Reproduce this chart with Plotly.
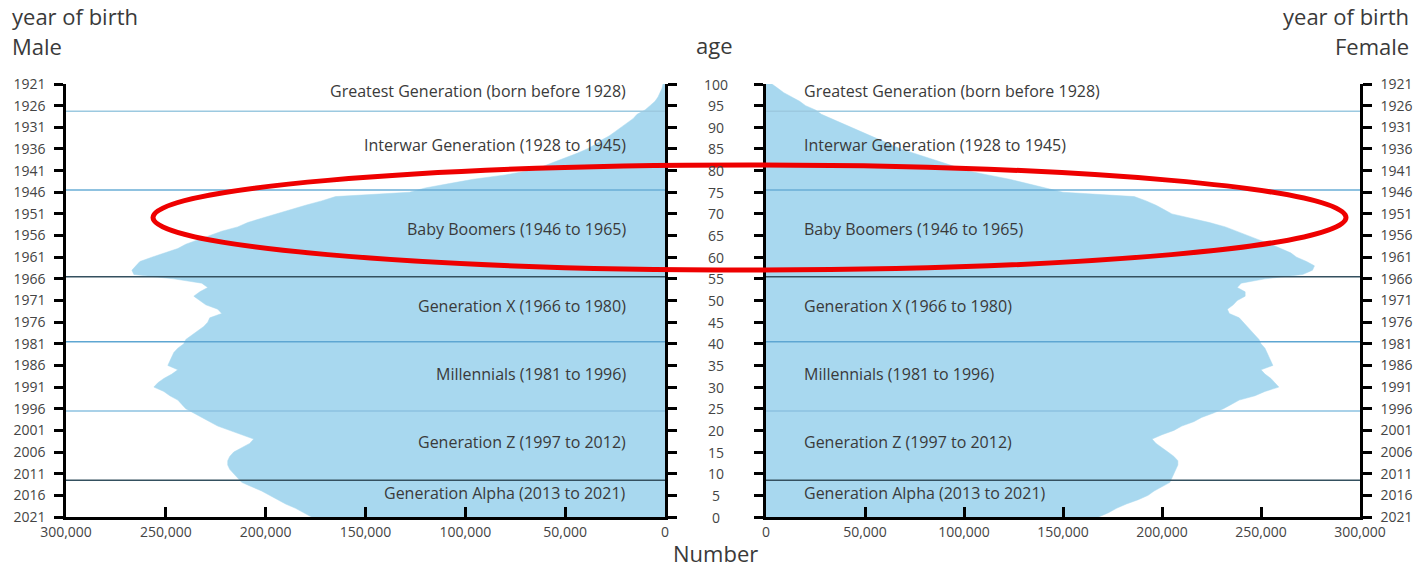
import plotly.graph_objects as go

# ---------------- data ----------------
census_year = 2021
ages = list(range(0, 101))

# Male population by single year of age (0..100)
male = [177000, 181000, 185000, 190000, 194000, 198000, 202000, 207000, 212000, 214000,
        216000, 218000, 219000, 219000, 218000, 216000, 212000, 208000, 206000, 212000,
        219000, 224000, 228000, 232000, 236000, 240000, 242000, 244000, 248000, 251000,
        256000, 254000, 251000, 247000, 244000, 249000, 248000, 247000, 246000, 244000,
        241000, 240000, 237000, 234000, 231000, 229000, 228000, 222000, 224000, 230000,
        233000, 236000, 233000, 229000, 232000, 246000, 266000, 267000, 265000, 263000,
        257000, 250000, 244000, 240000, 234000, 228000, 222000, 214000, 209000, 202000,
        195000, 188000, 180000, 172000, 165000, 128000, 120000, 108000, 96000, 80000,
        68000, 61000, 55000, 50000, 44000, 39000, 35000, 32000, 28000, 25000,
        22000, 19000, 16000, 14000, 10000, 7500, 5000, 3500, 2500, 1500,
        1000]

# Female population by single year of age (0..100)
female = [168000, 173000, 177000, 182000, 188000, 193000, 196000, 200000, 204000, 205000,
          206000, 207000, 208000, 208000, 206000, 203000, 200000, 197000, 195000, 200000,
          206000, 210000, 216000, 220000, 226000, 231000, 235000, 239000, 247000, 252000,
          259000, 257000, 255000, 252000, 250000, 256000, 255000, 254000, 253000, 252000,
          250000, 249000, 247000, 245000, 243000, 241000, 239000, 234000, 233000, 236000,
          238000, 242000, 242000, 238000, 240000, 252000, 271000, 276000, 277000, 273000,
          268000, 265000, 260000, 255000, 249000, 243000, 238000, 232000, 224000, 214000,
          205000, 201000, 197000, 192000, 186000, 150000, 141000, 133000, 123000, 112000,
          101000, 95000, 88000, 81000, 74000, 68000, 63000, 58000, 53000, 48000,
          43000, 38000, 33000, 28000, 25000, 20000, 17000, 13000, 9000, 6000,
          3000]

age_ticks = [100, 95, 90, 85, 80, 75, 70, 65, 60, 55, 50, 45, 40, 35, 30, 25, 20, 15, 10, 5, 0]
birth_year_ticks = [1921, 1926, 1931, 1936, 1941, 1946, 1951, 1956, 1961, 1966, 1971,
                    1976, 1981, 1986, 1991, 1996, 2001, 2006, 2011, 2016, 2021]
number_ticks = [0, 50000, 100000, 150000, 200000, 250000, 300000]

generations = ["Greatest Generation (born before 1928)",
               "Interwar Generation (1928 to 1945)",
               "Baby Boomers (1946 to 1965)",
               "Generation X (1966 to 1980)",
               "Millennials (1981 to 1996)",
               "Generation Z (1997 to 2012)",
               "Generation Alpha (2013 to 2021)"]
# generation boundaries expressed as age
generation_bounds = [93.7, 75.5, 55.5, 40.5, 24.5, 8.5]

# ---------------- styling / layout ----------------
W, H = 1415, 570
FONT = "Open Sans"
FILL = "#a8d8ef"
TXT = "#3a3a3a"
TICKC = "#444444"

def px_x(p):
    return p / W

def px_y(p):
    return (H - p) / H

label_ages = [98.3, 85.9, 66.5, 48.7, 33.0, 17.3, 5.5]
bound_colors = ["#9cc9e0", "#6aaed6", "#34505f", "#5ea6d2", "#8cc2e0", "#34505f"]

fig = go.Figure()
fig.add_trace(go.Scatter(x=male, y=ages, xaxis="x", yaxis="y", fill="tozerox",
                         fillcolor=FILL, mode="lines",
                         line=dict(color=FILL, width=0.5), showlegend=False,
                         hoverinfo="skip"))
fig.add_trace(go.Scatter(x=female, y=ages, xaxis="x2", yaxis="y2", fill="tozerox",
                         fillcolor=FILL, mode="lines",
                         line=dict(color=FILL, width=0.5), showlegend=False,
                         hoverinfo="skip"))

tick_pos = [census_year - y for y in birth_year_ticks]

ydom = [px_y(517), px_y(84)]
common_y = dict(range=[0, 100], domain=ydom, showgrid=False, zeroline=False,
                showline=True, linecolor="black", linewidth=2.5, automargin=False,
                ticks="outside", ticklen=9, tickwidth=2.5, tickcolor="black",
                mirror="ticks", tickmode="array", tickvals=tick_pos,
                ticktext=[str(y) for y in birth_year_ticks], ticklabelstandoff=6,
                tickfont=dict(family=FONT, size=14, color=TICKC), fixedrange=True)
common_x = dict(showgrid=False, zeroline=False, showline=True, linecolor="black",
                linewidth=2.5, ticks="inside", ticklen=10, tickwidth=2.5, automargin=False,
                tickcolor="black", tickmode="array", tickvals=number_ticks,
                ticktext=[f"{v:,}" for v in number_ticks],
                tickfont=dict(family=FONT, size=14, color=TICKC), fixedrange=True)

fig.update_layout(
    width=W, height=H,
    margin=dict(l=0, r=0, t=0, b=0, pad=0, autoexpand=False),
    paper_bgcolor="white", plot_bgcolor="white",
    xaxis=dict(common_x, domain=[px_x(66), px_x(665)], range=[300000, 0], anchor="y"),
    xaxis2=dict(common_x, domain=[px_x(766), px_x(1360)], range=[0, 300000], anchor="y2"),
    yaxis=dict(common_y, anchor="x", side="left"),
    yaxis2=dict(common_y, anchor="x2", side="right"),
)

shapes = []
for b, c in zip(generation_bounds, bound_colors):
    for xr in ["x domain", "x2 domain"]:
        shapes.append(dict(type="line", xref=xr, yref="y", x0=0, x1=1, y0=b, y1=b,
                           line=dict(color=c, width=1.5), layer="above"))
# red highlight ellipse around the baby boomers
shapes.append(dict(type="circle", xref="paper", yref="paper",
                   x0=px_x(153), x1=px_x(1346), y0=px_y(270), y1=px_y(165),
                   line=dict(color="#ee0000", width=5), layer="above"))

annotations = []
for name, a in zip(generations, label_ages):
    annotations.append(dict(text=name, xref="paper", yref="y", x=px_x(628), y=a,
                            xanchor="right", yanchor="middle", showarrow=False,
                            font=dict(family=FONT, size=16, color=TXT)))
    annotations.append(dict(text=name, xref="paper", yref="y", x=px_x(802), y=a,
                            xanchor="left", yanchor="middle", showarrow=False,
                            font=dict(family=FONT, size=16, color=TXT)))
for a in age_ticks:
    annotations.append(dict(text=str(a), xref="paper", yref="y", x=px_x(716), y=a,
                            xanchor="center", yanchor="middle", showarrow=False,
                            font=dict(family=FONT, size=14, color=TICKC)))

def title(text, x, y, anchor):
    return dict(text=text, xref="paper", yref="paper", x=px_x(x), y=px_y(y),
                xanchor=anchor, yanchor="middle", showarrow=False,
                font=dict(family=FONT, size=22, color=TXT))

annotations += [
    title("year of birth", 10, 16, "left"),
    title("Male", 10, 46, "left"),
    title("year of birth", 1411, 16, "right"),
    title("Female", 1411, 46, "right"),
    title("age", 714, 45, "center"),
    title("Number", 715, 553, "center"),
]

fig.update_layout(shapes=shapes, annotations=annotations)
# remove the default 8px page margin so the figure fills the window exactly
fig.write_html("out.html", config={"displayModeBar": False},
               post_script="document.body.style.margin='0';document.body.style.overflow='hidden';")
